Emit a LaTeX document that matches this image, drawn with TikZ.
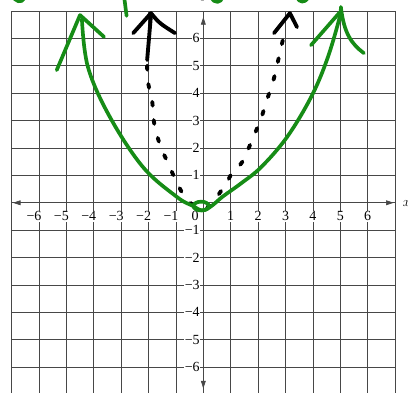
\documentclass[tikz,border=0pt]{standalone}
\usepackage{fontspec}
\setmainfont{Liberation Serif}
\usetikzlibrary{arrows.meta}
\definecolor{pengreen}{RGB}{22,140,22}

\begin{document}
\begin{tikzpicture}[>={Triangle[length=8pt,width=5pt]},
    gridline/.style={draw=black!72, line width=0.7pt},
    ticklabel/.style={fill=white, inner sep=0.8pt, font=\fontsize{14.5}{14.5}\selectfont},
    greenpen/.style={draw=pengreen, line width=3.8pt, line cap=round, line join=round},
    blackpen/.style={draw=black, line width=4pt, line cap=round, line join=round}]
    \clip (-7.42,-6.91) rectangle (7.47,7.40);
    \fill[white] (-7.42,-6.91) rectangle (7.47,7.40);

    % grid and axes
    \draw[gridline] (-7,-6.95) grid (7,7);
    \draw[gridline,<->] (-6.95,0) -- (6.95,0);
    \draw[gridline,<->] (0,-6.78) -- (0,6.78);

    \foreach \n in {1,...,6} {
        \node[ticklabel] (xp\n) at (\n,-0.49) {\n};
        \node[ticklabel] (xm\n) at (-\n-0.18,-0.49) {−\n};
        \node[ticklabel,anchor=east] (yp\n) at (-0.1,\n) {\n};
        \node[ticklabel,anchor=east] (ym\n) at (-0.1,-\n) {−\n};
    }
    \node[ticklabel] (o) at (-0.3,-0.49) {0};
    \node[anchor=base west,inner sep=0pt,font=\fontsize{14.5}{14.5}\selectfont] (xlab) at (7.28,-0.12) {$x$};
    \node[anchor=base west,inner sep=0pt,font=\fontsize{14.5}{14.5}\selectfont] (ylab) at (-0.12,7.45) {$y$};

    % dotted parabola
    \draw[blackpen,dash pattern=on 4pt off 15pt] plot[smooth,tension=0.6] coordinates {
        (-2.05,5.0) (-2.02,4.40) (-1.87,3.75) (-1.80,2.94) (-1.58,2.11) (-1.29,1.45)
        (-0.96,0.72) (-0.67,0.21) (-0.35,-0.1) (0,-0.2) (0.35,-0.05) (0.50,0.21)
        (0.86,0.75) (1.05,1.08) (1.42,1.49) (1.81,2.36) (2.11,3.09) (2.32,3.75)
        (2.58,4.55) (2.84,5.68) (2.98,6.25)};
    \draw[blackpen] (-2.05,5.21) -- (-1.91,6.85);
    \draw[blackpen] (-2.56,6.19) -- (-1.91,6.92) .. controls (-1.6,6.55) .. (-1.03,6.19);
    \draw[blackpen] (2.58,6.19) -- (3.16,6.92) -- (3.42,6.41);

    % green parabola
    \draw[greenpen] plot[smooth,tension=0.6] coordinates {
        (-4.43,6.70) (-4.21,4.95) (-3.41,3.13) (-2.20,1.30) (-0.96,0.21) (-0.41,-0.1)
        (-0.02,-0.28) (0.35,-0.08) (0.7,0.22) (1.38,0.71) (2.11,1.30) (3.05,2.39)
        (3.93,3.85) (4.51,5.21) (4.95,6.67) (5.02,7.14)};
    \draw[greenpen] (-0.08,-0.12) ellipse (0.28 and 0.16);
    \draw[greenpen] (-5.35,4.84) -- (-4.50,6.85) -- (-3.62,6.05);
    \draw[greenpen] (3.93,5.75) -- (4.98,6.95);
    \draw[greenpen] (5.02,7.14) .. controls (5.13,6.2) and (5.4,5.8) .. (5.86,5.46);

    % handwriting cut off at the top
    \draw[greenpen] (-6.95,7.6) .. controls (-6.9,7.3) and (-6.6,7.3) .. (-6.55,7.45);
    \draw[greenpen] (-2.9,7.6) -- (-2.8,6.82);
    \draw[greenpen] (0.3,7.5) .. controls (0.4,7.25) and (0.65,7.3) .. (0.7,7.5);
    \draw[greenpen] (3.42,7.5) .. controls (3.5,7.3) and (3.7,7.3) .. (3.8,7.45);
\end{tikzpicture}
\end{document}
